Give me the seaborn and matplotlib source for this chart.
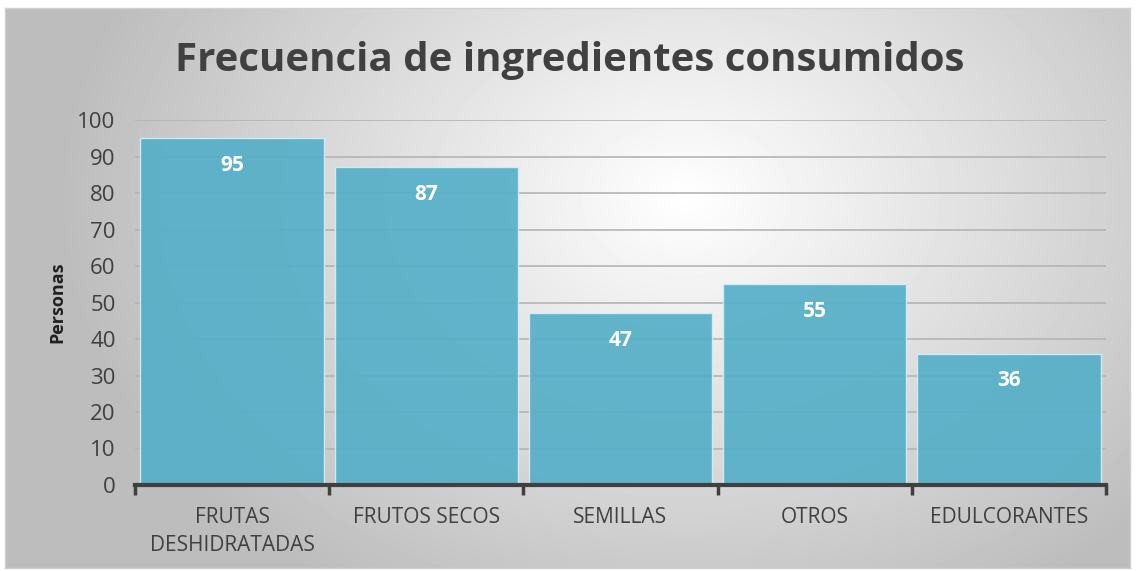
import numpy as np
import pandas as pd
import matplotlib
matplotlib.use('Agg')
from matplotlib import pyplot as plt
import seaborn as sns

categorias = ["FRUTAS\nDESHIDRATADAS", "FRUTOS SECOS", "SEMILLAS", "OTROS", "EDULCORANTES"]
personas = [95, 87, 47, 55, 36]
yticks = [0, 10, 20, 30, 40, 50, 60, 70, 80, 90, 100]

df = pd.DataFrame({"cat": categorias, "val": personas})

sns.set_theme(style="white")
plt.rcParams['font.family'] = ['Open Sans', 'DejaVu Sans']

W, H = 1136, 571
fig = plt.figure(figsize=(W / 100, H / 100), dpi=100)
fig.patch.set_facecolor('white')

# radial gradient background
bg = fig.add_axes([5 / W, 3 / H, 1125 / W, 560 / H])
yy, xx = np.mgrid[0:560, 0:1125]
d = np.sqrt(((xx - 680) / 650.0) ** 2 + ((yy - 190) / 480.0) ** 2)
shade = np.clip(1.0 - 0.27 * d, 0.74, 1.0)
bg.imshow(shade, cmap='gray', vmin=0, vmax=1, aspect='auto', interpolation='bilinear')
bg.set_xticks([])
bg.set_yticks([])
for s in bg.spines.values():
    s.set_color('#d0d0d0')
    s.set_linewidth(1)

ax = fig.add_axes([135 / W, 1 - 485 / H, (1106 - 135) / W, (485 - 120) / H])
ax.patch.set_alpha(0)
ax.set_axisbelow(True)
ax.yaxis.grid(True, color='#b4b4b4', linewidth=1.2)

sns.barplot(data=df, x="cat", y="val", color='#55afc8', saturation=1, width=0.945,
            edgecolor='#d6eef4', linewidth=1, alpha=0.92, ax=ax, zorder=2)

for i, v in enumerate(personas):
    ax.annotate(str(v), (i, v), xytext=(0, -27), textcoords='offset pixels',
                ha='center', va='center', color='white', fontsize=15, fontweight='bold', zorder=5)

ax.set_xlim(-0.5, 4.5)
ax.set_ylim(0, 100)
ax.set_yticks(yticks)
ax.tick_params(axis='y', length=0, labelsize=16, labelcolor='#404040', pad=14)
ax.set_xticks(range(5))
ax.set_xticklabels(categorias, linespacing=1.45)
ax.tick_params(axis='x', which='major', length=0, labelsize=15, labelcolor='#404040', pad=16)
ax.set_xticks(np.arange(-0.5, 5, 1), minor=True)
ax.tick_params(axis='x', which='minor', bottom=True, length=7, width=2.5, color='#404040', direction='out')
for s in ['top', 'right', 'left']:
    ax.spines[s].set_visible(False)
ax.spines['bottom'].set_color('#404040')
ax.spines['bottom'].set_linewidth(3)
ax.spines['bottom'].set_zorder(6)
ax.set_xlabel("")
ax.set_ylabel("Personas", fontsize=13, fontweight='bold', color='#202020', labelpad=8)

fig.text(570 / W, 1 - 61 / H, "Frecuencia de ingredientes consumidos", ha='center', va='center',
         fontsize=29, fontweight='bold', color='#404040')

plt.savefig("out.png", dpi=100)
